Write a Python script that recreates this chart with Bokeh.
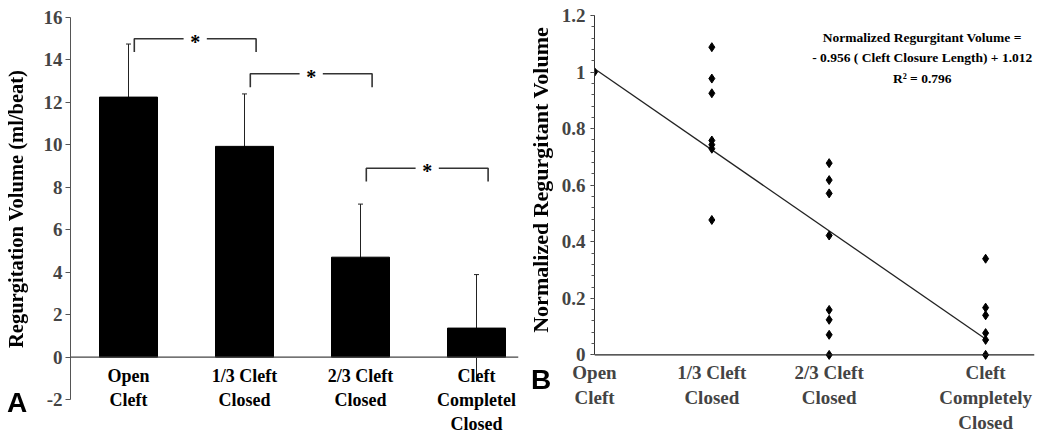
from bokeh.plotting import figure
from bokeh.layouts import row
from bokeh.models import (Range1d, FixedTicker, NumeralTickFormatter, Whisker,
                          TeeHead, ColumnDataSource, Span, Label, Div)
from bokeh.embed import file_html
from bokeh.resources import INLINE
from bokeh.core.properties import value
import numpy as np

# ---------------- Panel A data ----------------
categories_a = ["Open\nCleft", "1/3 Cleft\nClosed", "2/3 Cleft\nClosed", "Cleft\nCompletel\nClosed"]
regurg_volume = [12.25, 9.93, 4.71, 1.37]
regurg_sd = [2.50, 2.47, 2.50, 2.52]
y_ticks_a = [-2, 0, 2, 4, 6, 8, 10, 12, 14, 16]
sig_pairs = [(0, 1), (1, 2), (2, 3)]
sig_heights = [15.0, 13.35, 8.9]
title_a = "Regurgitation Volume (ml/beat)"

# ---------------- Panel B data ----------------
closure_labels = ["Open\nCleft", "1/3 Cleft\nClosed", "2/3 Cleft\nClosed", "Cleft\nCompletely\nClosed"]
closure_length = [0.0, 0.3, 0.6, 1.0]
norm_open = [1.0]
norm_third = [1.088, 0.977, 0.925, 0.758, 0.743, 0.729, 0.477]
norm_two_thirds = [0.678, 0.618, 0.571, 0.422, 0.159, 0.124, 0.071, 0.0]
norm_closed = [0.34, 0.167, 0.140, 0.077, 0.053, 0.0]
y_ticks_b = [0, 0.2, 0.4, 0.6, 0.8, 1.0, 1.2]
fit_slope = -0.956
fit_intercept = 1.012
r_squared = 0.796
title_b = "Normalized Regurgitant Volume"

SERIF = "Liberation Serif"
H = 435

# ================= Panel A =================
xa = [i + 0.5 for i in range(len(categories_a))]
pa = figure(width=525, height=H, output_backend="svg", toolbar_location=None,
            x_range=Range1d(0, 3.862), y_range=Range1d(-3.595, 16.094),
            min_border_left=70, min_border_right=7, min_border_top=15, min_border_bottom=0)
pa.outline_line_color = None
pa.xgrid.visible = False
pa.ygrid.visible = False
pa.xaxis.visible = False

src_a = ColumnDataSource(dict(x=xa, top=regurg_volume, label=categories_a,
                              upper=[v + s for v, s in zip(regurg_volume, regurg_sd)],
                              lower=[v - s for v, s in zip(regurg_volume, regurg_sd)]))
pa.add_layout(Span(location=0, dimension="width", line_color="#444444", line_width=1.2))
pa.add_layout(Whisker(base="x", upper="upper", lower="lower", source=src_a,
                      line_color="#222222", line_width=1,
                      upper_head=TeeHead(size=5, line_color="#222222", line_width=1),
                      lower_head=None, level="underlay"))
pa.vbar(x="x", top="top", width=0.5, source=src_a, fill_color="black", line_color="black")

# category labels under the zero line
pa.text(x="x", y=0, text="label", source=src_a, text_align="center", text_baseline="top",
        y_offset=9, text_font=value(SERIF), text_font_style="bold", text_font_size="18px",
        text_line_height=1.2, text_color="black")

# significance brackets
for (i, j), h in zip(sig_pairs, sig_heights):
    xl = xa[i] + 0.05
    xr = xa[j] + 0.10
    mid = (xl + xr) / 2
    gap = 0.1
    leg = 0.63
    pa.multi_line(xs=[[xl, xl, mid - gap], [mid + gap, xr, xr]],
                  ys=[[h - leg, h, h], [h, h, h - leg]],
                  line_color="#333333", line_width=1.6)
    pa.text(x=[mid], y=[h], text=["*"], text_align="center", text_baseline="middle",
            y_offset=3, text_font=value(SERIF), text_font_style="bold",
            text_font_size="20px", text_color="black")

pa.yaxis.bounds = (y_ticks_a[0], y_ticks_a[-1])
pa.yaxis.ticker = FixedTicker(ticks=y_ticks_a, minor_ticks=[])
pa.yaxis.major_label_overrides = {t: str(t) for t in y_ticks_a if t < 0}
pa.yaxis.major_label_text_font = SERIF
pa.yaxis.major_label_text_font_style = "bold"
pa.yaxis.major_label_text_font_size = "19px"
pa.yaxis.major_label_standoff = 3
pa.yaxis.major_tick_out = 5
pa.yaxis.major_tick_in = 0
pa.yaxis.axis_line_color = "#555555"
pa.yaxis.major_tick_line_color = "#555555"

# ================= Panel B =================
pb = figure(width=523, height=H, output_backend="svg", toolbar_location=None,
            x_range=Range1d(0, 1.125), y_range=Range1d(-0.278, 1.2),
            min_border_left=69, min_border_right=14, min_border_top=15, min_border_bottom=0)
pb.outline_line_color = None
pb.xgrid.visible = False
pb.ygrid.visible = False

groups = [norm_open, norm_third, norm_two_thirds, norm_closed]
px, py = [], []
for xv, g in zip(closure_length, groups):
    px += [xv] * len(g)
    py += g

pb.add_layout(Span(location=0, dimension="width", line_color="#222222", line_width=1.2))
x_fit = [closure_length[0], closure_length[-1]]
y_fit = [fit_slope * v + fit_intercept for v in x_fit]
pb.line(x_fit, y_fit, line_color="#222222", line_width=1.3)
pb.scatter(px, py, marker="diamond", size=9, fill_color="black", line_color="black")

# category axis: labels pulled up under the zero line
pb.xaxis.ticker = FixedTicker(ticks=closure_length, minor_ticks=[])
pb.xaxis.major_label_overrides = {float(x): lab for x, lab in zip(closure_length, closure_labels)}
pb.xaxis.axis_line_color = None
pb.xaxis.major_tick_line_color = None
pb.xaxis.minor_tick_line_color = None
pb.xaxis.major_tick_out = 0
pb.xaxis.major_tick_in = 0
pb.xaxis.major_label_standoff = -72
pb.xaxis.major_label_text_font = SERIF
pb.xaxis.major_label_text_font_style = "bold"
pb.xaxis.major_label_text_font_size = "19px"
pb.xaxis.major_label_text_line_height = 1.2

pb.yaxis.bounds = (y_ticks_b[0], y_ticks_b[-1])
pb.yaxis.ticker = FixedTicker(ticks=y_ticks_b, minor_ticks=list(np.round(np.arange(0, 1.2001, 0.04), 3)))
pb.yaxis.formatter = NumeralTickFormatter(format="0.[0]")
pb.yaxis.major_label_text_font = SERIF
pb.yaxis.major_label_text_font_style = "bold"
pb.yaxis.major_label_text_font_size = "19px"
pb.yaxis.major_label_standoff = 5
pb.yaxis.major_tick_out = 4
pb.yaxis.major_tick_in = 0
pb.yaxis.minor_tick_out = 3
pb.yaxis.minor_tick_in = 0
pb.yaxis.axis_line_color = "#333333"
pb.yaxis.major_tick_line_color = "#333333"
pb.yaxis.minor_tick_line_color = "#555555"

eq_text = (f"Normalized Regurgitant Volume =\n"
           f"- {abs(fit_slope):.3f} ( Cleft Closure Length) + {fit_intercept:.3f}\n"
           f"R\u00b2 = {r_squared:.3f}")
pb.add_layout(Label(x=0.838, y=1.148, text=eq_text, text_align="center", text_baseline="top",
                    text_font=SERIF, text_font_style="bold", text_font_size="13.5px",
                    text_line_height=1.35, text_color="black"))

# axis titles and panel letters, placed on the page outside the plot frames
def page_text(text, left, top, size, family, extra=None):
    st = {"position": "fixed", "left": f"{left}px", "top": f"{top}px",
          "font-family": family, "font-weight": "bold", "font-size": f"{size}px",
          "line-height": "1", "color": "black", "z-index": "10", "white-space": "nowrap"}
    if extra:
        st.update(extra)
    return Div(text=text, margin=0, styles=st)


def vertical_title(text, cx, cy, size, box_w=360, box_h=26):
    extra = {"width": f"{box_w}px", "height": f"{box_h}px", "line-height": f"{box_h}px",
             "text-align": "center", "transform": "rotate(-90deg)",
             "transform-origin": "50% 50%"}
    return page_text(text, cx - box_w / 2, cy - box_h / 2, size, SERIF, extra)


div_ta = vertical_title(title_a, 15.5, 208.5, 20.5)
div_tb = vertical_title(title_b, 540.5, 180, 22)
div_a = page_text("A", 7, 389, 28, "Liberation Sans")
div_b = page_text("B", 531, 366, 28, "Liberation Sans")

layout = row(pa, pb, div_ta, div_tb, div_a, div_b)
open("out.html", "w").write(file_html(layout, INLINE))
